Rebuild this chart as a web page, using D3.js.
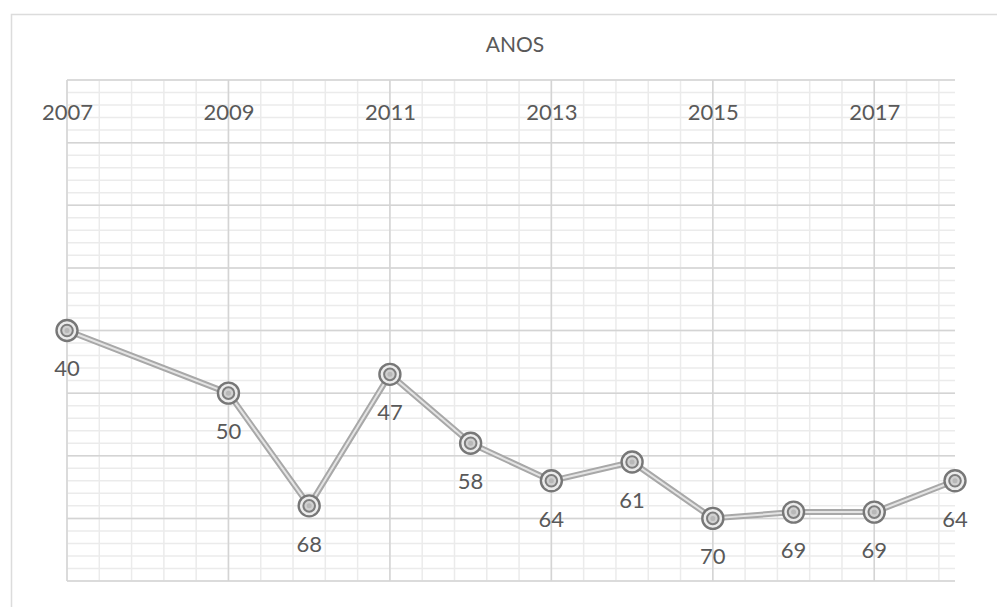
<!DOCTYPE html>
<html><head><meta charset="utf-8">
<script src="https://cdn.jsdelivr.net/npm/d3@7"></script>
<style>body{margin:0;background:#fff}svg{display:block}</style>
</head><body>
<script>
const years = [2007, 2009, 2010, 2011, 2012, 2013, 2014, 2015, 2016, 2017, 2018];
const values = [40, 50, 68, 47, 58, 64, 61, 70, 69, 69, 64];
const yearTicks = [2007, 2009, 2011, 2013, 2015, 2017];
const title = "ANOS";

const W = 997, H = 607;
const svg = d3.select("body").append("svg").attr("width", W).attr("height", H);
const font = "Lato, 'Open Sans', sans-serif";

// chart frame
svg.append("path").attr("d", `M11.5,${H} V14.5 H${W}`).attr("fill", "none").attr("stroke", "#dcdcdc").attr("stroke-width", 1.5);

const x = d3.scaleLinear().domain([2007, 2018]).range([67, 955]);
const y = d3.scaleLinear().domain([0, 80]).range([80, 581]);

const g = svg.append("g");
// minor grid
const minorX = d3.range(2007, 2018.001, 0.4);
const minorY = d3.range(0, 80.001, 2);
g.selectAll(".mx").data(minorX).enter().append("line")
  .attr("x1", d => x(d)).attr("x2", d => x(d)).attr("y1", y(0)).attr("y2", y(80))
  .attr("stroke", "#ebebeb").attr("stroke-width", 1.5);
g.selectAll(".my").data(minorY).enter().append("line")
  .attr("y1", d => y(d)).attr("y2", d => y(d)).attr("x1", x(2007)).attr("x2", x(2018))
  .attr("stroke", "#ebebeb").attr("stroke-width", 1.5);
// major grid
const majorX = d3.range(2007, 2018.001, 2);
const majorY = d3.range(0, 80.001, 10);
g.selectAll(".Mx").data(majorX).enter().append("line")
  .attr("x1", d => x(d)).attr("x2", d => x(d)).attr("y1", y(0)).attr("y2", y(80))
  .attr("stroke", "#d4d4d4").attr("stroke-width", 1.5);
g.selectAll(".My").data(majorY).enter().append("line")
  .attr("y1", d => y(d)).attr("y2", d => y(d)).attr("x1", x(2007)).attr("x2", x(2018))
  .attr("stroke", "#d4d4d4").attr("stroke-width", 1.5);

// top axis labels
const axis = d3.axisTop(x).tickValues(yearTicks).tickFormat(d3.format("d")).tickSize(0);
const ax = svg.append("g").attr("transform", `translate(0,${y(0)})`).call(axis);
ax.select(".domain").remove();
ax.selectAll("text").attr("y", 32).attr("dy", "0.35em").attr("font-family", font).attr("font-size", 22).attr("fill", "#595959");

// title
svg.append("text").attr("x", 515).attr("y", 45).attr("dy", "0.35em").attr("text-anchor", "middle")
  .attr("font-family", font).attr("font-size", 21).attr("fill", "#595959").text(title);

const data = years.map((yr, i) => ({yr, v: values[i]}));
const line = d3.line().x(d => x(d.yr)).y(d => y(d.v));
svg.append("path").datum(data).attr("d", line).attr("fill", "none").attr("stroke", "#a8a8a8").attr("stroke-width", 6).attr("stroke-linejoin", "round");
svg.append("path").datum(data).attr("d", line).attr("fill", "none").attr("stroke", "#e4e4e4").attr("stroke-width", 2).attr("stroke-linejoin", "round");

const pts = svg.selectAll(".pt").data(data).enter().append("g").attr("transform", d => `translate(${x(d.yr)},${y(d.v)})`);
pts.append("circle").attr("r", 10.5).attr("fill", "#ececec").attr("stroke", "#777").attr("stroke-width", 2.4);
pts.append("circle").attr("r", 5.8).attr("fill", "#d0d0d0").attr("stroke", "#7d7d7d").attr("stroke-width", 2);
pts.append("circle").attr("r", 2.5).attr("fill", "#b8b8b8");

svg.selectAll(".lbl").data(data).enter().append("text")
  .attr("x", d => x(d.yr)).attr("y", d => y(d.v) + 38).attr("dy", "0.35em").attr("text-anchor", "middle")
  .attr("font-family", font).attr("font-size", 22).attr("fill", "#595959").text(d => d.v);
</script>
</body></html>
